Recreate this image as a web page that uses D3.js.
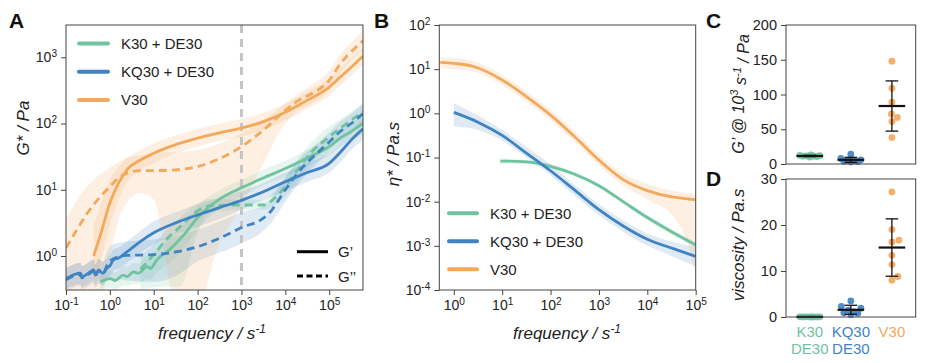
<!DOCTYPE html>
<html>
<head>
<meta charset="utf-8">
<script src="https://cdn.jsdelivr.net/npm/d3@7"></script>
<style>
  body { margin: 0; background: #fff; }
  svg { display: block; font-family: "Liberation Sans", Arial, sans-serif; }
</style>
</head>
<body>
<svg id="fig" width="925" height="363"></svg>
<script>
// ---- colours
var green = "#6fc39f", blue = "#3f83c2", orange = "#f4a85b";

// ---- panel A : G' / G'' vs frequency (Pa)
var fK30Gp  = [0.6, 1.02, 1.32, 2.04, 2.45, 3.47, 4.47, 7.08, 8.32, 11.7, 23.4, 50.1, 100, 316, 1000, 3162, 1e4, 3.16e4, 1e5, 1.78e5, 3.16e5, 5.9e5];
var K30Gp   = [0.407, 0.457, 0.427, 0.513, 0.49, 0.575, 0.55, 0.692, 0.646, 0.871, 1.26, 2.14, 3.8, 7.24, 10.7, 15.1, 20.9, 30.2, 44.7, 60.3, 75.9, 100];
var K30GpLo = [0.316, 0.331, 0.316, 0.355, 0.347, 0.38, 0.38, 0.447, 0.437, 0.562, 0.794, 1.35, 2.51, 5.25, 7.94, 11.7, 15.8, 22.9, 33.1, 44.7, 55, 70.8];
var K30GpHi = [0.525, 0.603, 0.562, 0.708, 0.676, 0.794, 0.759, 1.0, 0.933, 1.26, 1.91, 3.16, 5.62, 10, 14.1, 20, 27.5, 39.8, 60.3, 83.2, 105, 141];

var fK30Gpp  = [5.01, 10, 20, 39.8, 100, 200, 1000, 3162, 6310, 1e4, 2e4, 3.98e4, 1e5, 1.78e5, 3.16e5, 5.9e5];
var K30Gpp   = [0.631, 1.05, 1.82, 2.75, 4.79, 5.75, 5.89, 5.89, 7.94, 11.2, 20.9, 37.2, 63.1, 85.1, 112, 151];
var K30GppLo = [0.316, 0.339, 0.347, 0.347, 2.24, 4.57, 5.01, 5.01, 6.03, 7.94, 14.1, 26.3, 44.7, 63.1, 83.2, 112];
var K30GppHi = [1.0, 1.51, 2.51, 3.8, 6.31, 7.24, 7.08, 7.08, 10.5, 15.8, 30.2, 52.5, 89.1, 115, 151, 200];

var fKQ30Gp  = [0.1, 0.214, 0.229, 0.355, 0.427, 0.468, 0.55, 0.692, 0.851, 1.02, 1.2, 1.58, 2.45, 5.01, 10, 31.6, 100, 316, 1000, 3162, 1e4, 3.16e4, 1e5, 2e5, 3.16e5, 5.9e5];
var KQ30Gp   = [0.457, 0.55, 0.49, 0.575, 0.617, 0.513, 0.617, 0.55, 0.646, 0.724, 0.871, 0.933, 1.15, 1.66, 2.24, 3.16, 4.17, 5.37, 6.92, 9.33, 13.2, 18.2, 25.1, 39.8, 56.2, 83.2];
var KQ30GpLo = [0.316, 0.38, 0.339, 0.398, 0.427, 0.355, 0.427, 0.38, 0.447, 0.5, 0.603, 0.646, 0.794, 1.12, 1.51, 2.09, 2.75, 3.63, 5.01, 7.08, 9.55, 13.2, 18.2, 28.2, 39.8, 56.2];
var KQ30GpHi = [0.661, 0.794, 0.708, 0.832, 0.891, 0.741, 0.891, 0.794, 0.933, 1.05, 1.26, 1.35, 1.66, 2.4, 3.31, 4.57, 6.03, 7.59, 9.55, 12.6, 18.2, 25.1, 36.3, 56.2, 79.4, 115];

var fKQ30Gpp  = [0.1, 0.214, 0.229, 0.355, 0.427, 0.468, 0.55, 0.692, 0.851, 1.02, 1.58, 2.45, 10, 31.6, 100, 316, 1000, 3162, 4467, 1e4, 2.57e4, 5.25e4, 1e5, 1.78e5, 3.16e5, 5.9e5];
var KQ30Gpp   = [0.437, 0.525, 0.468, 0.55, 0.589, 0.501, 0.603, 0.537, 0.708, 0.851, 0.977, 1.02, 1.05, 1.15, 1.38, 1.86, 2.69, 3.72, 4.57, 10, 22.4, 35.5, 52.5, 75.9, 100, 141];
var KQ30GppLo = [0.282, 0.355, 0.316, 0.363, 0.38, 0.331, 0.38, 0.355, 0.417, 0.447, 0.447, 0.427, 0.407, 0.501, 0.832, 1.12, 1.55, 2.4, 3.02, 6.61, 15.1, 25.1, 37.2, 52.5, 70.8, 100];
var KQ30GppHi = [0.661, 0.794, 0.708, 0.832, 0.891, 0.759, 0.912, 0.832, 1.12, 1.41, 1.58, 1.66, 1.78, 2.0, 2.51, 3.31, 4.57, 5.75, 7.08, 15.1, 33.1, 50.1, 74.1, 107, 141, 200];

var fV30Gp  = [0.427, 0.63, 1, 1.58, 2.45, 5.01, 10, 31.6, 100, 316, 1000, 3162, 1e4, 3.16e4, 1e5, 1.78e5, 3.16e5, 5.9e5];
var V30Gp   = [1.0, 2.24, 6.31, 12.6, 20, 28.2, 35.5, 47.9, 60.3, 72.4, 85.1, 107, 148, 224, 355, 501, 708, 1047];
var V30GpLo = [0.398, 0.891, 2.82, 7.08, 12.6, 20, 25.1, 35.5, 44.7, 55, 63.1, 79.4, 112, 166, 263, 372, 525, 759];
var V30GpHi = [2.82, 6.31, 14.1, 22.4, 30.2, 39.8, 50.1, 66.1, 83.2, 100, 117, 145, 200, 302, 479, 692, 955, 1413];

var fV30Gpp  = [0.1, 0.178, 0.302, 0.562, 1, 1.58, 2.45, 5.01, 10, 31.6, 100, 316, 1000, 3162, 1e4, 2e4, 3.98e4, 1e5, 1.78e5, 3.16e5, 5.9e5];
var V30Gpp   = [1.32, 2.51, 4.37, 7.41, 11.2, 15.1, 17.8, 19.5, 19.5, 20, 22.4, 29.5, 44.7, 79.4, 158, 224, 282, 447, 794, 1202, 1778];
var V30GppLo = [0.2, 0.2, 0.2, 0.2, 1.0, 3.55, 6.31, 8.91, 7.08, 0.2, 0.2, 1.58, 5.62, 25.1, 100, 158, 200, 316, 562, 891, 1259];
var V30GppHi = [3.55, 7.08, 11.2, 16.6, 21.4, 26.3, 30.2, 33.1, 35.5, 37.2, 39.8, 50.1, 70.8, 112, 200, 282, 380, 631, 1122, 1660, 2512];

// ---- panel B : complex viscosity (Pa.s)
var fK30Eta  = [9.12, 10, 31.6, 100, 316, 1000, 3162, 1e4, 3.16e4, 1e5];
var K30Eta   = [0.0832, 0.0832, 0.0794, 0.0631, 0.0417, 0.0229, 0.01, 0.00437, 0.00209, 0.00105];
var K30EtaLo = [0.0631, 0.0724, 0.0708, 0.0562, 0.0372, 0.0204, 0.00891, 0.0038, 0.00182, 0.000891];
var K30EtaHi = [0.105, 0.0933, 0.0891, 0.0708, 0.0468, 0.0257, 0.0112, 0.00501, 0.0024, 0.00126];

var fKQ30Eta  = [1, 3.16, 10, 31.6, 100, 316, 1000, 3162, 1e4, 3.55e4, 1e5];
var KQ30Eta   = [1.05, 0.631, 0.316, 0.126, 0.0501, 0.0182, 0.0066, 0.00282, 0.00141, 0.000851, 0.000575];
var KQ30EtaLo = [0.501, 0.417, 0.24, 0.1, 0.0398, 0.0138, 0.00501, 0.00209, 0.001, 0.000562, 0.000339];
var KQ30EtaHi = [1.7, 0.891, 0.417, 0.174, 0.0692, 0.024, 0.00871, 0.0038, 0.00191, 0.0012, 0.000955];

var fV30Eta  = [0.525, 1, 2.57, 10, 31.6, 100, 316, 1000, 3162, 1e4, 3.47e4, 7.08e4, 1e5];
var V30Eta   = [14.3, 13.5, 11.5, 5.69, 2.4, 0.912, 0.295, 0.0871, 0.0316, 0.0178, 0.0126, 0.0115, 0.011];
var V30EtaLo = [10.5, 10, 8.71, 4.37, 1.82, 0.692, 0.224, 0.0661, 0.0234, 0.0112, 0.00447, 0.001, 0.0002];
var V30EtaHi = [18.6, 17.8, 15.1, 7.41, 3.16, 1.2, 0.389, 0.115, 0.0427, 0.0251, 0.0174, 0.0158, 0.0151];

// ---- panels C, D : individual samples
var groups = ["K30 + DE30", "KQ30 + DE30", "V30"];
var groupLines = [["K30", "DE30"], ["KQ30", "DE30"], ["V30"]];
var groupColors = [green, blue, orange];
var gpAt1e3 = [
  [10, 10.8, 11.2, 11.6, 12, 12.4, 13, 11.5],
  [14, 8, 6, 5, 4.5, 3.5, 3, 4],
  [148, 109, 89, 72, 67, 61, 38]
];
var viscosity = [
  [0.02, 0.03, 0.02, 0.04, 0.03, 0.02, 0.03, 0.02],
  [3.5, 2.3, 1.9, 1.5, 1.1, 0.8, 0.5, 0.9],
  [27.2, 19.0, 16.7, 16.3, 13.4, 11.4, 8.8, 8.0]
];

// axis tick values
var ticksAx = [1e-1, 1e0, 1e1, 1e2, 1e3, 1e4, 1e5];
var ticksAy = [1e0, 1e1, 1e2, 1e3];
var ticksBx = [1e0, 1e1, 1e2, 1e3, 1e4, 1e5];
var ticksBy = [1e-4, 1e-3, 1e-2, 1e-1, 1e0, 1e1, 1e2];
var ticksC = [0, 50, 100, 150, 200];
var ticksD = [0, 10, 20, 30];

var svg = d3.select("#fig");
svg.append("rect").attr("width", 925).attr("height", 363).attr("fill", "#fff");
var axisColor = "#444";

function zip(f, v) { return f.map(function (d, i) { return [d, v[i]]; }); }
function band(f, lo, hi) { return f.map(function (d, i) { return [d, lo[i], hi[i]]; }); }

function powLabels(g) {
  g.selectAll(".tick text").each(function (d) {
    var e = Math.round(Math.log10(d));
    var t = d3.select(this).text(null);
    t.append("tspan").text("10");
    t.append("tspan").attr("dy", "-0.5em").attr("font-size", "0.72em").text(e);
  });
}

function styleAxis(g, size) {
  g.select(".domain").remove();
  g.selectAll(".tick line").attr("stroke", axisColor);
  g.selectAll(".tick text").attr("fill", "#222").attr("font-size", size);
  g.attr("font-family", null);
}

function frame(x0, y0, x1, y1) {
  svg.append("rect").attr("x", x0).attr("y", y0).attr("width", x1 - x0).attr("height", y1 - y0)
    .attr("fill", "none").attr("stroke", axisColor).attr("stroke-width", 1);
}

function clip(id, x0, y0, x1, y1) {
  svg.append("clipPath").attr("id", id).append("rect")
    .attr("x", x0).attr("y", y0).attr("width", x1 - x0).attr("height", y1 - y0);
}

function letter(t, x, y) {
  svg.append("text").attr("x", x).attr("y", y).attr("font-size", 21).attr("font-weight", "bold")
    .attr("fill", "#111").text(t);
}

function freqLabel(cx) {
  var t = svg.append("text").attr("x", cx).attr("y", 339).attr("text-anchor", "middle")
    .attr("font-size", 17).attr("font-style", "italic").attr("fill", "#222");
  t.append("tspan").text("frequency / s");
  t.append("tspan").attr("dy", "-0.5em").attr("font-size", "0.7em").text("-1");
}

// ================= Panel A =================
var xA = d3.scaleLog().domain([0.1, 5.9e5]).range([66, 363]);
var yA = d3.scaleLog().domain([Math.pow(10, -0.513), Math.pow(10, 3.487)]).range([290, 25]);
clip("clipA", 66, 25, 363, 290);

var seriesA = [
  { f: fK30Gp, v: K30Gp, lo: K30GpLo, hi: K30GpHi, c: green, dash: null },
  { f: fK30Gpp, v: K30Gpp, lo: K30GppLo, hi: K30GppHi, c: green, dash: "8,5" },
  { f: fKQ30Gp, v: KQ30Gp, lo: KQ30GpLo, hi: KQ30GpHi, c: blue, dash: null },
  { f: fKQ30Gpp, v: KQ30Gpp, lo: KQ30GppLo, hi: KQ30GppHi, c: blue, dash: "8,5" },
  { f: fV30Gp, v: V30Gp, lo: V30GpLo, hi: V30GpHi, c: orange, dash: null },
  { f: fV30Gpp, v: V30Gpp, lo: V30GppLo, hi: V30GppHi, c: orange, dash: "8,5" }
];

var gA = svg.append("g").attr("clip-path", "url(#clipA)");
var areaA = d3.area().x(function (d) { return xA(d[0]); })
  .y0(function (d) { return yA(d[1]); }).y1(function (d) { return yA(d[2]); })
  .curve(d3.curveMonotoneX);
var lineA = d3.line().x(function (d) { return xA(d[0]); }).y(function (d) { return yA(d[1]); })
  .curve(d3.curveMonotoneX);

gA.selectAll("path.band").data(seriesA).enter().append("path").attr("class", "band")
  .attr("d", function (s) { return areaA(band(s.f, s.lo, s.hi)); })
  .attr("fill", function (s) { return s.c; }).attr("fill-opacity", 0.17).attr("stroke", "none");

gA.append("line").attr("x1", xA(1e3)).attr("x2", xA(1e3)).attr("y1", 25).attr("y2", 290)
  .attr("stroke", "#c4c4c4").attr("stroke-width", 3).attr("stroke-dasharray", "8,6");

gA.selectAll("path.line").data(seriesA).enter().append("path").attr("class", "line")
  .attr("d", function (s) { return lineA(zip(s.f, s.v)); })
  .attr("fill", "none").attr("stroke", function (s) { return s.c; })
  .attr("stroke-width", 2.8).attr("stroke-dasharray", function (s) { return s.dash; });

svg.append("g").attr("transform", "translate(0,290)")
  .call(d3.axisBottom(xA).tickValues(ticksAx).tickSize(5).tickPadding(5))
  .call(styleAxis, 14).call(powLabels);
svg.append("g").attr("transform", "translate(66,0)")
  .call(d3.axisLeft(yA).tickValues(ticksAy).tickSize(5).tickPadding(4))
  .call(styleAxis, 14).call(powLabels);
frame(66, 25, 363, 290);

// legend A
groups.forEach(function (g, i) {
  var y = 43.5 + i * 28.3;
  svg.append("line").attr("x1", 79).attr("x2", 108).attr("y1", y).attr("y2", y)
    .attr("stroke", groupColors[i]).attr("stroke-width", 4).attr("stroke-linecap", "round");
  svg.append("text").attr("x", 121).attr("y", y + 5.3).attr("font-size", 15).attr("fill", "#222").text(g);
});
[["G\u2019", null], ["G\u2019\u2019", "6,3.5"]].forEach(function (d, i) {
  var y = 251.7 + i * 24.3;
  svg.append("line").attr("x1", 297).attr("x2", 328).attr("y1", y).attr("y2", y)
    .attr("stroke", "#000").attr("stroke-width", 3).attr("stroke-dasharray", d[1]);
  svg.append("text").attr("x", 338).attr("y", y + 5.5).attr("font-size", 15).attr("fill", "#222").text(d[0]);
});

svg.append("text").attr("transform", "translate(29,128) rotate(-90)").attr("text-anchor", "middle")
  .attr("font-size", 17).attr("font-style", "italic").attr("fill", "#222").text("G* / Pa");
freqLabel(212);
letter("A", 9, 28);

// ================= Panel B =================
var xB = d3.scaleLog().domain([Math.pow(10, -0.3), 1e5]).range([439.3, 695.7]);
var yB = d3.scaleLog().domain([1e-4, 1e2]).range([290, 25]);
clip("clipB", 439.3, 25, 695.7, 290);

var seriesB = [
  { f: fK30Eta, v: K30Eta, lo: K30EtaLo, hi: K30EtaHi, c: green },
  { f: fKQ30Eta, v: KQ30Eta, lo: KQ30EtaLo, hi: KQ30EtaHi, c: blue },
  { f: fV30Eta, v: V30Eta, lo: V30EtaLo, hi: V30EtaHi, c: orange }
];
var gB = svg.append("g").attr("clip-path", "url(#clipB)");
var areaB = d3.area().x(function (d) { return xB(d[0]); })
  .y0(function (d) { return yB(d[1]); }).y1(function (d) { return yB(d[2]); })
  .curve(d3.curveMonotoneX);
var lineB = d3.line().x(function (d) { return xB(d[0]); }).y(function (d) { return yB(d[1]); })
  .curve(d3.curveMonotoneX);

gB.selectAll("path.band").data(seriesB).enter().append("path").attr("class", "band")
  .attr("d", function (s) { return areaB(band(s.f, s.lo, s.hi)); })
  .attr("fill", function (s) { return s.c; }).attr("fill-opacity", 0.17);
gB.selectAll("path.line").data(seriesB).enter().append("path").attr("class", "line")
  .attr("d", function (s) { return lineB(zip(s.f, s.v)); })
  .attr("fill", "none").attr("stroke", function (s) { return s.c; }).attr("stroke-width", 2.8);

svg.append("g").attr("transform", "translate(0,290)")
  .call(d3.axisBottom(xB).tickValues(ticksBx).tickSize(5).tickPadding(5))
  .call(styleAxis, 14).call(powLabels);
svg.append("g").attr("transform", "translate(439.3,0)")
  .call(d3.axisLeft(yB).tickValues(ticksBy).tickSize(5).tickPadding(4))
  .call(styleAxis, 14).call(powLabels);
frame(439.3, 25, 695.7, 290);

groups.forEach(function (g, i) {
  var y = 213.3 + i * 28;
  svg.append("line").attr("x1", 449).attr("x2", 477).attr("y1", y).attr("y2", y)
    .attr("stroke", groupColors[i]).attr("stroke-width", 4).attr("stroke-linecap", "round");
  svg.append("text").attr("x", 490).attr("y", y + 5.3).attr("font-size", 15).attr("fill", "#222").text(g);
});

svg.append("text").attr("transform", "translate(399,154) rotate(-90)").attr("text-anchor", "middle")
  .attr("font-size", 17).attr("font-style", "italic").attr("fill", "#222").text("\u03b7* / Pa.s");
freqLabel(567);
letter("B", 374, 28);

// ================= Panels C and D =================
var xCD = d3.scalePoint().domain(groups).range([786, 915.7]).padding(0.58);
var yC = d3.scaleLinear().domain([0, 200]).range([164, 25]);
var yD = d3.scaleLinear().domain([0, 30]).range([317, 179]);
var r = 3.4;

// simple beeswarm: nearest free horizontal offset, otherwise the least crowded one
function swarm(vals, cx, y, maxOff) {
  var out = [], placed = [];
  var order = d3.range(vals.length).sort(function (a, b) { return vals[a] - vals[b]; });
  order.forEach(function (i) {
    var py = y(vals[i]), best = null, bestD = -1;
    for (var k = 0; k <= maxOff * 4; k++) {
      var off = (k % 2 ? 1 : -1) * Math.ceil(k / 2) * 0.5;
      var md = d3.min(placed, function (p) { return Math.hypot(p[0] - (cx + off), p[1] - py); });
      if (md === undefined || md >= 2 * r) { best = off; break; }
      if (md > bestD + 0.01) { bestD = md; best = off; }
    }
    placed.push([cx + best, py]);
    out[i] = [cx + best, py];
  });
  return out;
}

function stripPanel(data, y) {
  data.forEach(function (vals, gi) {
    var cx = xCD(groups[gi]);
    var pts = swarm(vals, cx, y, 10);
    svg.append("g").selectAll("circle").data(pts).enter().append("circle")
      .attr("cx", function (p) { return p[0]; }).attr("cy", function (p) { return p[1]; })
      .attr("r", r).attr("fill", groupColors[gi]).attr("fill-opacity", 0.92);
    var m = d3.mean(vals), sd = d3.deviation(vals);
    var g = svg.append("g").attr("stroke", "#111");
    g.append("line").attr("x1", cx).attr("x2", cx).attr("y1", y(m - sd)).attr("y2", y(m + sd)).attr("stroke-width", 1.3);
    [m - sd, m + sd].forEach(function (v) {
      g.append("line").attr("x1", cx - 6.3).attr("x2", cx + 6.3).attr("y1", y(v)).attr("y2", y(v)).attr("stroke-width", 1.3);
    });
    g.append("line").attr("x1", cx - 13.3).attr("x2", cx + 13.3).attr("y1", y(m)).attr("y2", y(m)).attr("stroke-width", 2.2);
  });
}

stripPanel(gpAt1e3, yC);
svg.append("g").attr("transform", "translate(786,0)")
  .call(d3.axisLeft(yC).tickValues(ticksC).tickSize(5).tickPadding(4))
  .call(styleAxis, 14.5);
frame(786, 25, 915.7, 164);

stripPanel(viscosity, yD);
svg.append("g").attr("transform", "translate(786,0)")
  .call(d3.axisLeft(yD).tickValues(ticksD).tickSize(5).tickPadding(4))
  .call(styleAxis, 14.5);
frame(786, 179, 915.7, 317);

groupLines.forEach(function (lines, gi) {
  var t = svg.append("text").attr("x", xCD(groups[gi])).attr("y", 337).attr("text-anchor", "middle")
    .attr("font-size", 15).attr("fill", groupColors[gi]);
  lines.forEach(function (s, j) {
    t.append("tspan").attr("x", xCD(groups[gi])).attr("dy", j ? 17 : 0).text(s);
  });
});

var lc = svg.append("text").attr("transform", "translate(744,94) rotate(-90)").attr("text-anchor", "middle")
  .attr("font-size", 16).attr("font-style", "italic").attr("fill", "#222");
lc.append("tspan").text("G\u2019 @ 10");
lc.append("tspan").attr("dy", "-0.5em").attr("font-size", "0.7em").text("3");
lc.append("tspan").attr("dy", "0.5em").text(" s");
lc.append("tspan").attr("dy", "-0.5em").attr("font-size", "0.7em").text("-1");
lc.append("tspan").attr("dy", "0.5em").text(" / Pa");

svg.append("text").attr("transform", "translate(744,245) rotate(-90)").attr("text-anchor", "middle")
  .attr("font-size", 17).attr("font-style", "italic").attr("fill", "#222").text("viscosity / Pa.s");

letter("C", 706, 28);
letter("D", 706, 186);
</script>
</body>
</html>
